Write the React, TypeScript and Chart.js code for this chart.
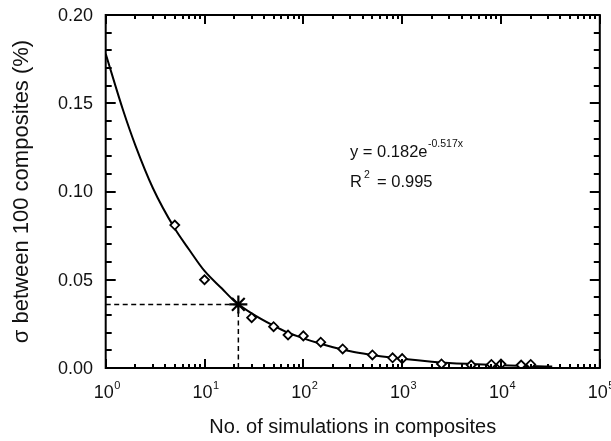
import React, { useEffect, useRef } from "react";
import { Chart, registerables } from "chart.js";

Chart.register(...registerables);

// Observed points (diamonds)
const SIM_COUNTS = [5, 10, 30, 50, 70, 100, 150, 250, 500, 800, 1000, 2500, 5000, 8000, 10000, 16000, 20000];
const SIGMA_VALUES = [0.081, 0.05, 0.0285, 0.0234, 0.0187, 0.0182, 0.0146, 0.0108, 0.0074, 0.0058, 0.0053, 0.0023, 0.0017, 0.002, 0.0022, 0.0017, 0.002];

// Fitted curve
const FIT_COUNTS = [1, 1.5, 2, 3, 5, 7, 10, 15, 20, 30, 50, 70, 100, 150, 200, 300, 500, 700, 1000, 2000, 3000, 5000, 10000, 20000, 33000];
const FIT_VALUES = [0.178, 0.146, 0.126, 0.102, 0.079, 0.067, 0.055, 0.045, 0.038, 0.031, 0.024, 0.02, 0.0168, 0.0137, 0.0118, 0.0095, 0.0074, 0.0062, 0.0052, 0.0036, 0.0029, 0.0023, 0.0016, 0.0011, 0.0008];

// Highlighted point (asterisk)
const MARKED_COUNT = 22;
const MARKED_SIGMA = 0.036;

// Axes
const X_MIN = 1;
const X_MAX = 100000;
const X_TICK_EXPONENTS = [0, 1, 2, 3, 4, 5];
const Y_MIN = 0;
const Y_MAX = 0.2;
const Y_TICK_VALUES = [0, 0.05, 0.1, 0.15, 0.2];
const Y_TICK_LABELS = ["0.00", "0.05", "0.10", "0.15", "0.20"];
const Y_MINOR_STEP = 0.01;

const X_TITLE = "No. of simulations in composites";
const Y_TITLE = "σ between 100 composites (%)";
const EQ_MAIN = "y = 0.182e";
const EQ_EXP = "-0.517x";
const R2_BASE = "R";
const R2_SUP = "2";
const R2_VALUE = "= 0.995";

const FONT = '"Liberation Sans", Arial, sans-serif';

const framePlugin = {
  id: "framePlugin",
  afterDraw(chart: any) {
    const { ctx, chartArea: a, scales } = chart;
    const x = scales.x;
    const y = scales.y;
    ctx.save();
    ctx.strokeStyle = "#000";
    ctx.fillStyle = "#111";
    // frame
    ctx.lineWidth = 2;
    ctx.strokeRect(a.left, a.top, a.right - a.left, a.bottom - a.top);
    // y ticks
    ctx.lineWidth = 2;
    const nY = Math.round((Y_MAX - Y_MIN) / Y_MINOR_STEP);
    for (let i = 0; i <= nY; i++) {
      const v = Y_MIN + i * Y_MINOR_STEP;
      const py = Math.round(y.getPixelForValue(v));
      const len = i % 5 === 0 ? 10 : 6;
      ctx.beginPath();
      ctx.moveTo(a.left, py);
      ctx.lineTo(a.left + len, py);
      ctx.moveTo(a.right, py);
      ctx.lineTo(a.right - len, py);
      ctx.stroke();
    }
    // x ticks
    for (let k = X_TICK_EXPONENTS[0]; k <= X_TICK_EXPONENTS[X_TICK_EXPONENTS.length - 1]; k++) {
      for (let m = 1; m <= 9; m++) {
        const v = m * Math.pow(10, k);
        if (v > X_MAX) break;
        const px = Math.round(x.getPixelForValue(v));
        const len = m === 1 ? 9 : 4;
        ctx.beginPath();
        ctx.moveTo(px, a.bottom);
        ctx.lineTo(px, a.bottom - len);
        ctx.moveTo(px, a.top);
        ctx.lineTo(px, a.top + len);
        ctx.stroke();
      }
    }
    // y tick labels
    ctx.font = `18px ${FONT}`;
    ctx.textAlign = "right";
    ctx.textBaseline = "middle";
    Y_TICK_VALUES.forEach((v, i) => {
      ctx.fillText(Y_TICK_LABELS[i], 93, y.getPixelForValue(v) + 1);
    });
    // x tick labels 10^n
    ctx.textAlign = "left";
    ctx.textBaseline = "alphabetic";
    X_TICK_EXPONENTS.forEach((e) => {
      const px = x.getPixelForValue(Math.pow(10, e));
      ctx.font = `18px ${FONT}`;
      const wBase = ctx.measureText("10").width;
      ctx.font = `11px ${FONT}`;
      const wSup = ctx.measureText(String(e)).width;
      const start = px - (wBase + wSup) / 2 + 1;
      ctx.font = `18px ${FONT}`;
      ctx.fillText("10", start, 398);
      ctx.font = `11px ${FONT}`;
      ctx.fillText(String(e), start + wBase + 0.5, 389);
    });
    // axis titles
    ctx.textAlign = "center";
    ctx.textBaseline = "middle";
    ctx.font = `20px ${FONT}`;
    ctx.fillText(X_TITLE, (a.left + a.right) / 2, 427);
    ctx.save();
    ctx.font = `22px ${FONT}`;
    ctx.translate(22, (a.top + a.bottom) / 2);
    ctx.rotate(-Math.PI / 2);
    ctx.fillText(Y_TITLE, 0, 0);
    ctx.restore();
    // equation
    ctx.textAlign = "left";
    ctx.textBaseline = "alphabetic";
    ctx.font = `16.5px ${FONT}`;
    ctx.fillText(EQ_MAIN, 350, 157);
    const wEq = ctx.measureText(EQ_MAIN).width;
    ctx.font = `10.5px ${FONT}`;
    ctx.fillText(EQ_EXP, 350 + wEq + 0.5, 147);
    ctx.font = `16.5px ${FONT}`;
    ctx.fillText(R2_BASE, 350, 187);
    const wR = ctx.measureText(R2_BASE).width;
    ctx.font = `10.5px ${FONT}`;
    ctx.fillText(R2_SUP, 350 + wR + 2, 178);
    ctx.font = `16.5px ${FONT}`;
    ctx.fillText(R2_VALUE, 377, 187);
    ctx.restore();
  },
};

export default function App() {
  const canvasRef = useRef<HTMLCanvasElement | null>(null);

  useEffect(() => {
    if (!canvasRef.current) return;
    const points = SIM_COUNTS.map((n, i) => ({ x: n, y: SIGMA_VALUES[i] }));
    const fit = FIT_COUNTS.map((n, i) => ({ x: n, y: FIT_VALUES[i] }));
    const chart = new Chart(canvasRef.current, {
      type: "scatter",
      data: {
        datasets: [
          {
            data: [{ x: MARKED_COUNT, y: MARKED_SIGMA }],
            pointStyle: "star",
            pointRadius: 9,
            borderWidth: 2.2,
            borderColor: "#000",
            backgroundColor: "#000",
            showLine: false,
          },
          {
            data: points,
            pointStyle: "rectRot",
            pointRadius: 4.5,
            borderWidth: 1.8,
            borderColor: "#000",
            backgroundColor: "#fff",
            showLine: false,
          },
          {
            data: fit,
            showLine: true,
            pointRadius: 0,
            borderWidth: 2,
            borderColor: "#000",
            cubicInterpolationMode: "monotone",
            fill: false,
          },
          {
            data: [
              { x: X_MIN, y: MARKED_SIGMA },
              { x: MARKED_COUNT, y: MARKED_SIGMA },
            ],
            showLine: true,
            pointRadius: 0,
            borderWidth: 1.5,
            borderColor: "#000",
            borderDash: [5, 3.5],
          },
          {
            data: [
              { x: MARKED_COUNT, y: Y_MIN },
              { x: MARKED_COUNT, y: MARKED_SIGMA },
            ],
            showLine: true,
            pointRadius: 0,
            borderWidth: 1.5,
            borderColor: "#000",
            borderDash: [5, 3.5],
          },
        ],
      } as any,
      options: {
        responsive: false,
        animation: false,
        events: [],
        layout: { padding: { left: 105.7, top: 15, right: 3.5, bottom: 73 } },
        plugins: { legend: { display: false }, tooltip: { enabled: false } },
        scales: {
          x: { type: "logarithmic", min: X_MIN, max: X_MAX, display: false },
          y: { type: "linear", min: Y_MIN, max: Y_MAX, display: false },
        },
      } as any,
      plugins: [framePlugin],
    });
    return () => chart.destroy();
  }, []);

  return (
    <div style={{ position: "absolute", left: 0, top: 0, width: 611, height: 441, background: "#fff" }}>
      <canvas ref={canvasRef} width={611} height={441} style={{ width: 611, height: 441 }} />
    </div>
  );
}
